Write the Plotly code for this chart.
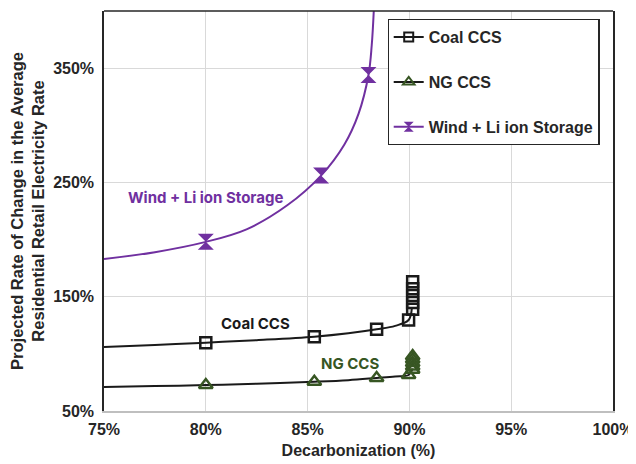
import plotly.graph_objects as go

# Marker data
coal_x = [80.0, 85.33, 88.39, 89.96, 90.16, 90.16, 90.16, 90.16, 90.16]
coal_y = [109.8, 115, 121.5, 129.6, 139, 145, 151, 157, 163]
ng_x = [80.0, 85.33, 88.39, 89.96, 90.16, 90.16, 90.16, 90.16, 90.16]
ng_y = [72.7, 75.6, 78.9, 81.5, 86, 89, 92, 95, 98]
wind_x = [80.0, 85.66, 87.99]
wind_y = [198, 256, 344]

# Trend curves
coal_fit_x = [75, 77.5, 80, 82.5, 85.33, 87, 88.39, 89.3, 89.96, 90.12]
coal_fit_y = [106, 107.8, 109.8, 112, 115, 118, 121.5, 124.5, 129.6, 140]
ng_fit_x = [75, 77.5, 80, 82.5, 85.33, 87, 88.39, 89.3, 89.96, 90.16]
ng_fit_y = [71, 71.8, 72.7, 73.8, 75.6, 77, 78.9, 80.2, 81.5, 87]
wind_fit_x = [75, 77.5, 80, 82, 84, 85.66, 86.8, 87.5, 87.99, 88.15, 88.25]
wind_fit_y = [183, 189, 198, 209, 230, 256, 283, 310, 344, 370, 400]

xticks = [75, 80, 85, 90, 95, 100]
yticks = [50, 150, 250, 350]

BLACK = "#1a1a1a"
GREEN = "#375623"
PURPLE = "#7030A0"
TXT = "#262626"
FONT = "Liberation Sans, Arial, sans-serif"
AFONT = "Inter, Liberation Sans, sans-serif"

fig = go.Figure()
fig.add_trace(go.Scatter(x=coal_fit_x, y=coal_fit_y, mode="lines", line=dict(color=BLACK, width=2, shape="spline"), showlegend=False, hoverinfo="skip"))
fig.add_trace(go.Scatter(x=ng_fit_x, y=ng_fit_y, mode="lines", line=dict(color=BLACK, width=2, shape="spline"), showlegend=False, hoverinfo="skip"))
fig.add_trace(go.Scatter(x=wind_fit_x, y=wind_fit_y, mode="lines", line=dict(color=PURPLE, width=2, shape="spline"), showlegend=False, hoverinfo="skip"))

fig.add_trace(go.Scatter(x=coal_x, y=coal_y, mode="markers", showlegend=False,
                         marker=dict(symbol="square-open", size=11, color=BLACK, line=dict(width=2.5, color=BLACK))))
fig.add_trace(go.Scatter(x=ng_x, y=ng_y, mode="markers", showlegend=False,
                         marker=dict(symbol="triangle-up-open", size=12, color=GREEN, line=dict(width=2.5, color=GREEN))))
fig.add_trace(go.Scatter(x=wind_x, y=wind_y, mode="markers", showlegend=False,
                         marker=dict(symbol="hourglass", size=16, color=PURPLE, line=dict(width=0))))

# legend entries
fig.add_trace(go.Scatter(x=[None], y=[None], mode="lines+markers", name="<b>Coal CCS</b>", legendgroup="a",
                         line=dict(color=BLACK, width=2),
                         marker=dict(symbol="square-open", size=9, color=BLACK, line=dict(width=2, color=BLACK))))
fig.add_trace(go.Scatter(x=[None], y=[None], mode="lines+markers", name="<b>NG CCS</b>", legendgroup="b",
                         line=dict(color=BLACK, width=2),
                         marker=dict(symbol="triangle-up-open", size=10, color=GREEN, line=dict(width=2, color=GREEN))))
fig.add_trace(go.Scatter(x=[None], y=[None], mode="lines+markers", name="<b>Wind + Li ion Storage</b>", legendgroup="c",
                         line=dict(color=PURPLE, width=2),
                         marker=dict(symbol="hourglass", size=10, color=PURPLE, line=dict(width=0))))

# The page adds an 8px body margin, so the figure is sized 8px smaller.
fig.update_layout(
    width=628, height=456,
    margin=dict(l=96, r=23, t=3, b=53),
    paper_bgcolor="white", plot_bgcolor="white",
    font=dict(family=FONT, size=16, color=TXT),
    legend=dict(x=0.557, y=0.98, xanchor="left", yanchor="top",
                bgcolor="white", bordercolor=TXT, borderwidth=1.2,
                font=dict(size=16, family=FONT, color=TXT),
                tracegroupgap=21, itemwidth=30),
    showlegend=True,
)
fig.update_xaxes(range=[75, 100], tickvals=xticks, ticktext=[f"<b>{v}%</b>" for v in xticks],
                 showgrid=True, gridcolor="#d9d9d9", gridwidth=1,
                 showline=True, linecolor="#bfbfbf", linewidth=1.5, mirror=False,
                 zeroline=False, ticks="outside", ticklen=3, tickcolor="rgba(0,0,0,0)", automargin=False,
                 tickfont=dict(size=16, family=FONT, color=TXT),
                 title=dict(text="<b>Decarbonization (%)</b>", font=dict(size=16, family=FONT, color=TXT), standoff=8))
fig.update_yaxes(range=[50, 400], tickvals=yticks, ticktext=[f"<b>{v}%</b>" for v in yticks],
                 showgrid=True, gridcolor="#d9d9d9", gridwidth=1,
                 showline=True, linecolor=TXT, linewidth=1.5, mirror=True,
                 zeroline=False, ticks="outside", ticklen=5, tickcolor="rgba(0,0,0,0)", automargin=False,
                 tickfont=dict(size=16, family=FONT, color=TXT),
                 title=dict(text="<b>Projected Rate of Change in the Average<br>Residential Retail Electricity Rate</b>",
                            font=dict(size=16.5, family=FONT, color=TXT), standoff=4))
fig.add_shape(type="line", xref="paper", yref="paper", x0=0, x1=1, y0=1, y1=1,
              line=dict(color=TXT, width=1.5))

fig.add_annotation(x=80.0, y=237, text="<b>Wind + Li ion Storage</b>", showarrow=False, font=dict(size=15, color=PURPLE, family=AFONT))
fig.add_annotation(x=82.43, y=127, text="<b>Coal CCS</b>", showarrow=False, font=dict(size=15, color=BLACK, family=AFONT))
fig.add_annotation(x=87.1, y=92, text="<b>NG CCS</b>", showarrow=False, font=dict(size=15, color=GREEN, family=AFONT))

fig.write_html("out.html")
